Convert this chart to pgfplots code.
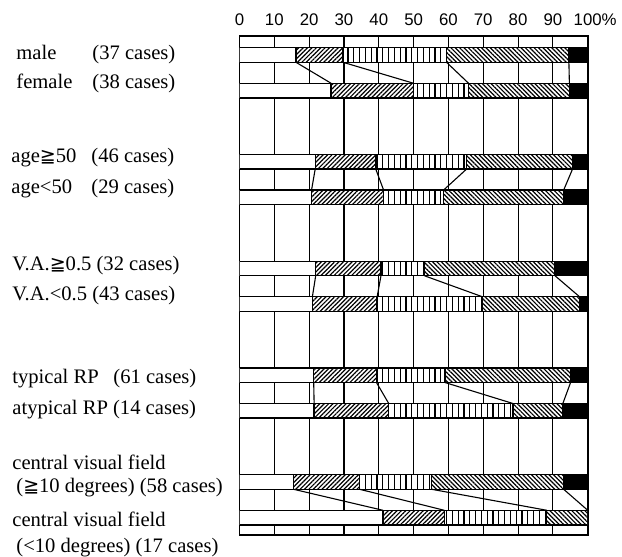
\documentclass[border=0pt]{standalone}
\usepackage{fontspec}
\setmainfont{Liberation Serif}
\setsansfont{Liberation Sans}
\newfontfamily\symfont{DejaVu Sans}
\usepackage{pgfplots}
\usepackage{pgfplotstable}
\pgfplotsset{compat=1.18}
\usetikzlibrary{patterns.meta}
\newcommand{\GE}{{\symfont\fontsize{9.5}{10}\selectfont ≧}}

\pgfplotstableread{
y a b c d e
0 16.22 13.51 29.73 35.14 5.41
1 26.32 23.68 15.79 28.95 5.26
3 21.74 17.39 26.09 30.43 4.35
4 20.69 20.69 17.24 34.48 6.90
6 21.88 18.75 12.50 37.50 9.37
7 20.93 18.60 30.23 27.91 2.33
9 21.31 18.03 19.67 36.07 4.92
10 21.43 21.43 35.71 14.29 7.14
12 15.52 18.97 20.69 37.93 6.89
13 41.18 17.65 29.41 11.76 0.00
}\data

\tikzset{lbl/.style={anchor=base west, inner sep=0pt, font=\fontsize{10.3}{12}\selectfont}}

\begin{document}
\begin{tikzpicture}
\useasboundingbox (0,0) rectangle (311pt,278.5pt);
\pgfplotsset{
  common/.style={
    at={(119.75pt,11pt)}, anchor=south west,
    scale only axis, width=174.1pt, height=249.5pt,
    xmin=0, xmax=100, ymin=-0.534, ymax=13.49, y dir=reverse,
  }
}
\begin{axis}[
  common,
  xbar stacked, bar width=0.41,
  xtick={0,10,...,100},
  xticklabels={0,10,20,30,40,50,60,70,80,90,100\rlap{\%}},
  xticklabel pos=upper, ytick=\empty,
  major tick length=0pt,
  xmajorgrids, grid style={black, line width=0.55pt},
  axis line style={line width=0.8pt},
  tick label style={font=\sffamily\fontsize{8.4}{9}\selectfont, inner sep=0pt},
  xticklabel shift=5.2pt,
  /pgf/number format/assume math mode=true,
  every axis plot/.append style={draw=black, line width=0.7pt},
]
\addplot[fill=white] table[x=a, y=y] {\data};
\addplot[fill=white, postaction={pattern={Lines[angle=45,distance=1.55pt,line width=0.6pt]}}] table[x=b, y=y] {\data};
\addplot[fill=white, postaction={pattern={Lines[angle=90,distance=2.9pt,line width=0.6pt]}}] table[x=c, y=y] {\data};
\addplot[fill=white, postaction={pattern={Lines[angle=-45,distance=1.55pt,line width=0.6pt]}}] table[x=d, y=y] {\data};
\addplot[fill=black] table[x=e, y=y] {\data};
\end{axis}
\begin{axis}[common, hide axis, unbounded coords=jump]
\addplot[black, line width=0.55pt] coordinates {
 (16.22,0.205) (26.32,0.795) (nan,nan)
 (29.73,0.205) (50.00,0.795) (nan,nan)
 (59.46,0.205) (65.79,0.795) (nan,nan)
 (94.60,0.205) (94.74,0.795)};
\addplot[black, line width=0.55pt] coordinates {
 (21.74,3.205) (20.69,3.795) (nan,nan)
 (39.13,3.205) (41.38,3.795) (nan,nan)
 (65.22,3.205) (58.62,3.795) (nan,nan)
 (95.65,3.205) (93.10,3.795)};
\addplot[black, line width=0.55pt] coordinates {
 (21.88,6.205) (20.93,6.795) (nan,nan)
 (40.63,6.205) (39.53,6.795) (nan,nan)
 (53.13,6.205) (69.77,6.795) (nan,nan)
 (90.63,6.205) (97.67,6.795)};
\addplot[black, line width=0.55pt] coordinates {
 (21.31,9.205) (21.43,9.795) (nan,nan)
 (39.34,9.205) (42.86,9.795) (nan,nan)
 (59.02,9.205) (78.57,9.795) (nan,nan)
 (95.08,9.205) (92.86,9.795)};
\addplot[black, line width=0.55pt] coordinates {
 (15.52,12.205) (41.18,12.795) (nan,nan)
 (34.48,12.205) (58.82,12.795) (nan,nan)
 (55.17,12.205) (88.24,12.795) (nan,nan)
 (93.10,12.205) (100.00,12.795)};
\end{axis}
\node[lbl] at (8pt,248.5pt) {male};
\node[lbl] at (46pt,248.5pt) {(37 cases)};
\node[lbl] at (8pt,234pt) {female};
\node[lbl] at (46pt,234pt) {(38 cases)};
\node[lbl] at (5.5pt,197pt) {age\GE50};
\node[lbl] at (45.5pt,197pt) {(46 cases)};
\node[lbl] at (5.5pt,181.5pt) {age<50};
\node[lbl] at (45.5pt,181.5pt) {(29 cases)};
\node[lbl] at (6pt,143pt) {V.A.\GE0.5 (32 cases)};
\node[lbl] at (6pt,128pt) {V.A.<0.5 (43 cases)};
\node[lbl] at (6pt,86.5pt) {typical RP};
\node[lbl] at (56.5pt,86.5pt) {(61 cases)};
\node[lbl] at (6pt,71pt) {atypical RP (14 cases)};
\node[lbl] at (6pt,43.5pt) {central visual field};
\node[lbl] at (8pt,32pt) {(\GE10 degrees) (58 cases)};
\node[lbl] at (6pt,15pt) {central visual field};
\node[lbl] at (8pt,2pt) {(<10 degrees) (17 cases)};
\end{tikzpicture}
\end{document}
